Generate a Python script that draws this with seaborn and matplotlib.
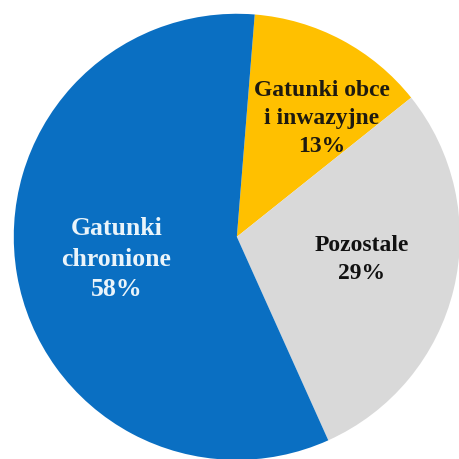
import numpy as np
import seaborn as sns
import matplotlib.pyplot as plt

sns.set_style('white')
plt.rcParams['font.family'] = ['Liberation Serif', 'DejaVu Serif']

labels = ['Gatunki obce\ni inwazyjne', 'Pozostale', 'Gatunki\nchronione']
values = [13, 29, 58]
colors = ['#FFC000', '#D9D9D9', '#0A6FC2']
text_colors = ['#1E1A10', '#111111', '#EAF4FA']
# label positions in data units (pie radius = 1)
label_x = [0.38, 0.56, -0.54]
label_y = [0.53, -0.10, -0.10]
font_sizes = [17, 17, 18.5]
line_sp = [1.45, 1.45, 1.4]

fig = plt.figure(figsize=(4.59, 4.59), dpi=100)
ax = fig.add_axes([0.03, -0.002, 0.972, 0.972])
ax.pie(values, colors=colors, startangle=85.4, counterclock=False,
       radius=1, wedgeprops=dict(linewidth=0))
ax.set_xlim(-1, 1)
ax.set_ylim(-1, 1)
ax.set_aspect('equal')
ax.axis('off')

for lab, v, x, y, c, fs, ls in zip(labels, values, label_x, label_y,
                                   text_colors, font_sizes, line_sp):
    ax.text(x, y, f'{lab}\n{v}%', ha='center', va='center', color=c,
            fontsize=fs, fontweight='bold', linespacing=ls)

fig.savefig('out.png', dpi=100)
